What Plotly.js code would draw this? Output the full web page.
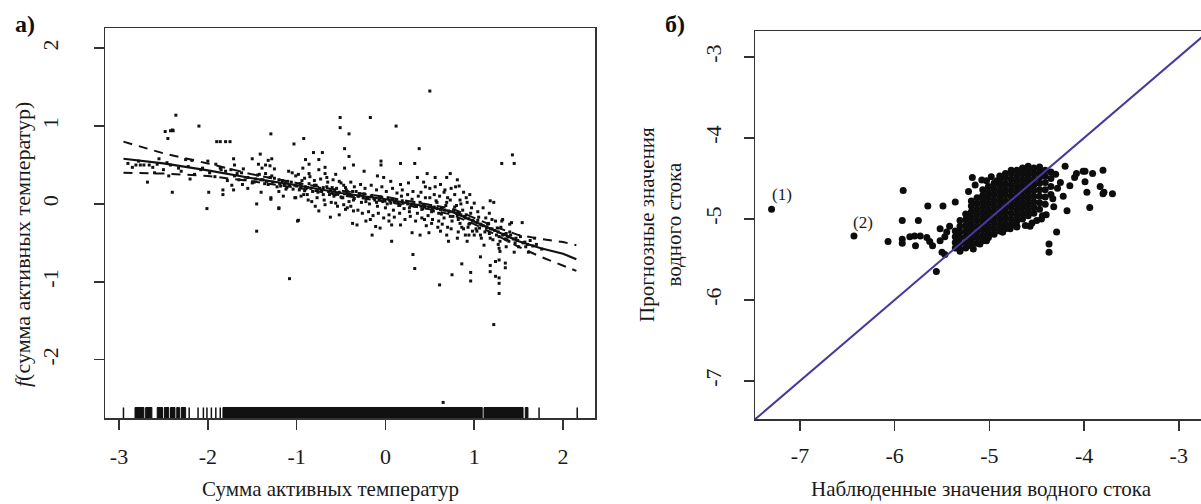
<!DOCTYPE html>
<html><head><meta charset="utf-8">
<script src="https://cdn.plot.ly/plotly-3.0.1.min.js"></script>
<style>html,body{margin:0;padding:0;overflow:hidden;background:#fff}#chart{width:1220px;height:504px}</style>
</head><body><div id="chart"></div>
<script>
// ---------- Panel а): partial effect of sum of active temperatures ----------
const residX = [-2.36,-2.10,-2.48,-2.40,-2.45,-1.90,-1.80,-1.29,-0.92,-1.03,-0.81,-0.51,-0.51,-0.41,-0.46,-0.41,-0.46,-0.17,0.12,0.50,0.38,1.43,1.45,1.31,-0.05,-0.05,0.17,0.33,-0.24,-0.36,-2.40,-2.68,-2.01,-1.99,-1.45,-1.45,-1.08,-0.98,-1.20,-1.29,
-2.90,-2.85,-2.78,-2.72,-2.62,-2.55,-2.50,-2.42,-2.30,-2.22,-2.15,-2.08,-1.98,-1.92,-1.85,-1.78,-1.70,-1.62,-1.55,-1.48,-1.42,-1.38,-1.32,-1.25,-1.22,-1.16,-1.12,-1.06,-1.02,-0.97,-0.94,-0.90,-0.86,-0.82,-0.78,-0.74,-0.70,-0.66,-0.62,-0.58,-0.55,-0.52,-0.48,-0.44,-0.40,-0.36,-0.33,-0.30,-0.27,-0.24,-0.21,-0.18,-0.15,-0.12,-0.09,-0.06,-0.03,0.00,0.03,0.06,0.09,0.12,0.15,0.18,0.21,0.24,0.27,0.30,0.33,0.36,0.39,0.42,0.45,0.48,0.51,0.54,0.57,0.60,0.63,0.66,0.69,0.72,0.75,0.78,0.81,0.84,0.87,0.90,0.93,0.96,0.99,1.02,1.05,1.08,1.12,1.16,1.20,1.25,1.30,1.35,1.40,1.46,1.52,1.58,1.63,
-0.09,-0.02,0.06,0.17,0.26,0.36,0.47,0.73,0.56,0.69,0.81,0.83,0.95,1.00,1.18,1.22,1.13,1.20,1.31,1.42,1.54,-0.15,0.07,0.31,0.33,0.61,0.75,0.86,0.96,0.96,1.07,1.18,1.24,1.28,1.35,1.35,1.18,1.24,1.28,1.28,1.28,1.22,1.18,1.29,1.37,1.28,1.29,1.03,1.07,1.11,0.71,0.81,0.92,0.94,0.30,0.39,0.49,0.62,0.69,-0.32,-0.22,-0.17,-0.11,-0.06,0.04,0.07,0.17,1.32,1.41,-0.62,-0.99,0.65,
0.50,0.55,0.62,0.66,0.70,0.74,0.78,0.84,0.88,0.58,0.45,0.40,0.68,0.80,0.92,0.86,0.74,0.60,0.52,0.44,0.98,0.90,
-1.09,-1.01,-0.93,-0.86,-0.75,-0.68,-0.56,-0.52,-0.45,-0.37,-0.83,-0.79,-0.75,-0.68,-0.56,-0.52,-0.45,-0.37,-0.36,-0.92,-0.88,-1.01,-1.11,-1.20,-1.43,-1.39,-1.35,-1.28,-1.20,-1.13,-1.61,-1.58,-1.50,-1.65,-1.91,-1.86,-1.74,-1.67,-1.80,-2.81,-2.76,-2.66,-2.57,-2.46,-2.44,-2.33,-2.25,-2.18,-2.06,-0.68,-0.66,-0.60,-0.56,-0.49,-0.41,-0.47,-0.39,-0.86,-0.75,-0.90,-0.71,-1.50,-1.41,-1.32,-1.28,-1.35,-1.30,-1.71,-1.73,-1.71,-1.83,-1.83,-1.29,-1.20,-1.02,-1.86,-1.75,-2.42,-2.39,
-1.46,-1.40,-1.34,-1.27,-1.19,-1.14,-1.08,-1.00,-0.95,-0.88,-0.84,-0.77,-0.72,-0.64,-0.60,-0.53,-0.46,-0.42,-0.38,-0.31,-0.25,-0.20,-0.13,-0.07,-0.01,0.05,0.10,0.14,0.20,0.25,0.29,0.35,0.40,0.44,0.49,0.53,0.58,0.62,0.67,0.71,0.76,0.80,0.85,0.89,0.94,0.98,1.03,1.07,1.10,1.14,1.18,1.23,1.27,1.33,1.38,1.44,1.49,1.55,1.60,1.66,
-1.44,-1.30,-1.10,-0.96,-0.80,-0.70,-0.57,-0.43,-0.29,-0.16,-0.04,0.08,0.19,0.32,0.43,0.55,0.64,0.77,0.83,0.91,1.04,1.15,1.26,1.36,1.47,1.57,
-1.36,-1.18,-1.04,-0.91,-0.76,-0.63,-0.50,-0.35,-0.22,-0.10,0.02,0.16,0.27,0.41,0.52,0.63,0.73,0.82,0.95,1.06,1.17,1.28,1.39,1.50,1.70,1.76,1.61,1.68,
-0.98,-0.95,-0.91,-0.87,-0.85,-0.80,-0.77,-0.73,-0.69,-0.65,-0.61,-0.59,-0.54,-0.50,-0.47,-0.43,-0.39,-0.35,-0.31,-0.28,-0.26,-0.23,-0.19,-0.16,-0.14,-0.10,-0.08,-0.04,-0.02,0.01,0.04,0.08,0.10,0.13,0.16,0.19,0.22,0.25,0.28,0.31,0.34,0.37,0.41,0.43,0.46,0.50,0.53,0.56,0.59,0.61,0.64,0.67,0.70,0.73,0.76,0.79,0.82,0.85,0.88,0.91,0.94,0.97,1.00,1.04,1.08,1.10,1.14,1.17,1.21,1.24,1.27,1.32,1.36,1.40,1.45,-1.40,-1.25,-1.15,-1.05,-1.60,-1.55,-2.20,-2.60,-2.00,-1.70];
const residY = [1.14,1.00,0.93,0.95,0.84,0.80,0.80,0.90,0.84,0.77,0.66,1.11,0.98,0.90,0.71,0.61,0.46,1.11,1.00,1.45,0.71,0.63,0.52,0.52,0.55,0.50,0.52,0.52,0.42,0.50,0.15,0.28,-0.06,0.15,0.00,-0.35,-0.96,-0.21,-0.06,0.08,
0.52,0.47,0.55,0.50,0.47,0.58,0.44,0.50,0.42,0.48,0.38,0.44,0.40,0.35,0.44,0.30,0.36,0.40,0.34,0.28,0.38,0.31,0.25,0.33,0.22,0.30,0.19,0.28,0.24,0.18,0.30,0.22,0.26,0.16,0.24,0.20,0.12,0.22,0.17,0.10,0.20,0.15,0.08,0.18,0.12,0.05,0.16,0.10,0.02,0.13,0.07,0.00,0.11,0.05,-0.03,0.09,0.03,-0.05,0.08,0.01,-0.08,0.05,-0.02,0.10,-0.06,0.03,-0.10,0.06,-0.03,-0.12,0.02,-0.06,0.08,-0.15,-0.02,-0.09,0.04,-0.12,-0.05,-0.18,0.02,-0.10,-0.22,-0.04,-0.14,-0.25,-0.08,-0.18,-0.30,-0.12,-0.22,-0.32,-0.17,-0.27,-0.36,-0.25,-0.32,-0.40,-0.30,-0.45,-0.36,-0.50,-0.42,-0.55,-0.47,
0.36,0.34,0.29,0.25,0.27,0.34,0.39,0.39,0.34,0.34,0.31,0.23,0.12,0.01,0.04,0.02,-0.18,-0.20,-0.22,-0.24,-0.24,-0.40,-0.48,-0.65,-0.83,-1.04,-0.91,-0.77,-0.88,-0.99,-0.68,-0.79,-0.74,-0.72,-0.76,-0.82,-0.87,-0.93,-0.95,-1.02,-1.15,-1.55,-0.44,-0.48,-0.46,-0.57,-0.61,-0.35,-0.40,-0.53,-0.48,-0.44,-0.48,-0.40,-0.37,-0.40,-0.37,-0.35,-0.40,-0.27,-0.22,-0.20,-0.29,-0.31,-0.22,-0.27,-0.27,-0.40,-0.40,-0.17,-0.22,-2.55,
0.20,0.12,0.25,0.15,0.08,0.20,0.12,0.05,0.15,0.02,0.22,0.15,-0.02,-0.02,0.02,-0.30,-0.32,-0.22,-0.25,-0.20,-0.35,-0.40,
0.42,0.36,0.46,0.39,0.44,0.39,0.38,0.29,0.21,0.16,0.03,-0.03,-0.09,-0.01,0.01,-0.14,-0.07,-0.25,-0.09,0.12,0.12,0.08,0.21,0.16,0.51,0.46,0.39,0.36,0.31,0.27,0.25,0.31,0.27,0.31,0.51,0.46,0.44,0.39,0.42,0.50,0.50,0.50,0.51,0.53,0.36,0.46,0.57,0.56,0.46,0.47,0.34,0.21,0.12,0.08,0.03,-0.01,-0.03,0.51,0.57,0.57,0.66,0.58,0.64,0.56,0.58,0.50,0.49,0.58,0.24,0.18,0.18,0.12,0.06,-0.05,0.08,0.80,0.80,0.94,0.94,
0.32,0.31,0.29,0.28,0.26,0.25,0.24,0.23,0.22,0.21,0.20,0.18,0.17,0.16,0.15,0.14,0.13,0.12,0.11,0.10,0.09,0.08,0.07,0.06,0.05,0.04,0.03,0.02,0.01,0.00,-0.01,-0.02,-0.03,-0.04,-0.04,-0.05,-0.06,-0.07,-0.08,-0.09,-0.10,-0.12,-0.14,-0.16,-0.19,-0.21,-0.24,-0.26,-0.28,-0.30,-0.32,-0.34,-0.36,-0.39,-0.42,-0.45,-0.47,-0.50,-0.52,-0.54,
0.37,0.34,0.29,0.26,0.24,0.21,0.18,0.16,0.13,0.10,0.08,0.06,0.04,0.02,-0.01,-0.04,-0.06,-0.09,-0.12,-0.14,-0.21,-0.26,-0.31,-0.38,-0.44,-0.49,
0.26,0.23,0.19,0.17,0.15,0.12,0.09,0.07,0.03,0.02,0.00,-0.02,-0.05,-0.07,-0.10,-0.13,-0.16,-0.20,-0.25,-0.31,-0.38,-0.42,-0.48,-0.55,-0.52,-0.58,-0.62,-0.44,
0.38,0.10,0.33,0.05,0.35,0.30,0.08,0.32,0.05,0.28,0.02,0.31,-0.03,0.27,0.24,-0.05,0.28,0.22,-0.08,0.25,-0.12,0.20,-0.10,0.24,-0.15,0.18,-0.12,0.22,-0.18,0.16,-0.14,0.20,-0.17,0.14,-0.12,0.18,-0.20,0.12,-0.16,0.16,-0.22,0.10,-0.18,0.28,-0.28,0.08,-0.20,0.22,-0.30,0.10,-0.26,0.18,-0.30,0.05,-0.16,0.22,-0.36,0.00,-0.32,0.08,-0.26,-0.05,-0.40,-0.10,-0.44,-0.05,-0.30,-0.12,-0.46,-0.22,-0.52,-0.20,-0.55,-0.26,-0.62,0.15,0.45,0.10,0.40,0.45,0.20,0.32,0.40,0.55,0.50];

// smooth fit and ±2SE bands
const fitX   = [-2.95,-2.5,-2.0,-1.5,-1.0,-0.5,0.0,0.5,0.75,1.0,1.25,1.5,1.75,2.0,2.15];
const fitY   = [0.58,0.52,0.43,0.33,0.24,0.14,0.06,-0.04,-0.10,-0.22,-0.35,-0.48,-0.57,-0.64,-0.71];
const upperY = [0.80,0.65,0.52,0.38,0.27,0.17,0.09,-0.01,-0.06,-0.18,-0.30,-0.40,-0.45,-0.49,-0.53];
const lowerY = [0.40,0.39,0.36,0.29,0.21,0.11,0.03,-0.07,-0.14,-0.26,-0.40,-0.55,-0.68,-0.79,-0.86];

// rug: solid blocks of observations and isolated observations
const rugBlocks = [[-2.82,-2.72],[-2.70,-2.63],[-2.57,-2.51],[-2.49,-2.44],[-2.42,-2.37],[-2.35,-2.32],[-2.30,-2.25],[-1.83,1.09],[1.11,1.55],[1.575,1.605]];
const rugTicks  = [-2.95,-2.21,-2.11,-2.05,-2.01,-1.96,-1.91,-1.86,1.73,2.16];

// ---------- Panel б): observed vs predicted runoff ----------
const obsX = [-7.30,-6.43,
-5.91,-5.65,-5.49,-5.36,-5.92,-5.75,-6.07,-5.92,-5.92,-5.84,-5.79,-5.73,-5.66,-5.63,-5.78,-5.60,-5.52,-5.47,-5.45,-5.52,-5.42,-5.50,-5.47,-5.56,-5.18,-5.03,-4.92,-5.10,-4.86,-4.78,-4.71,
-4.20,-4.08,-3.99,-3.91,-3.80,-3.83,-3.80,-3.70,-3.97,-3.99,-3.94,-4.18,-4.15,-4.10,-4.22,-4.29,-4.37,-4.37,-4.01,-3.79,
-4.30,-4.28,-4.33,-4.25,-4.32,-4.40,-4.45,-4.55,-4.62,-4.50,-4.44,-4.57,-4.71,-4.86,-5.03,-5.17,-5.31,
-5.36,-5.36,-5.36,-5.36,
-5.31,-5.31,-5.31,-5.31,-5.31,-5.31,
-5.25,-5.25,-5.25,-5.25,-5.25,-5.25,-5.25,
-5.19,-5.19,-5.19,-5.19,-5.19,-5.19,-5.19,-5.19,-5.19,
-5.13,-5.13,-5.13,-5.13,-5.13,-5.13,-5.13,-5.13,-5.13,
-5.07,-5.07,-5.07,-5.07,-5.07,-5.07,-5.07,-5.07,-5.07,-5.07,
-5.01,-5.01,-5.01,-5.01,-5.01,-5.01,-5.01,-5.01,-5.01,-5.01,
-4.95,-4.95,-4.95,-4.95,-4.95,-4.95,-4.95,-4.95,-4.95,-4.95,
-4.89,-4.89,-4.89,-4.89,-4.89,-4.89,-4.89,-4.89,-4.89,-4.89,-4.89,
-4.83,-4.83,-4.83,-4.83,-4.83,-4.83,-4.83,-4.83,-4.83,-4.83,-4.83,
-4.77,-4.77,-4.77,-4.77,-4.77,-4.77,-4.77,-4.77,-4.77,-4.77,-4.77,
-4.71,-4.71,-4.71,-4.71,-4.71,-4.71,-4.71,-4.71,-4.71,-4.71,
-4.65,-4.65,-4.65,-4.65,-4.65,-4.65,-4.65,-4.65,-4.65,-4.65,
-4.59,-4.59,-4.59,-4.59,-4.59,-4.59,-4.59,-4.59,-4.59,-4.59,
-4.53,-4.53,-4.53,-4.53,-4.53,-4.53,-4.53,-4.53,-4.53,
-4.47,-4.47,-4.47,-4.47,-4.47,-4.47,-4.47,-4.47,
-4.41,-4.41,-4.41,-4.41,-4.41,-4.41,
-4.35,-4.35,-4.35,-4.35,
-5.22,-5.15,-5.08,-4.98];
const predY = [-4.88,-5.21,
-4.65,-4.84,-4.84,-4.79,-5.02,-5.02,-5.28,-5.25,-5.30,-5.22,-5.21,-5.21,-5.23,-5.28,-5.33,-5.33,-5.27,-5.22,-5.16,-5.12,-5.09,-5.41,-5.44,-5.65,-4.49,-4.53,-4.53,-5.31,-5.16,-5.12,-5.09,
-4.35,-4.44,-4.41,-4.44,-4.40,-4.60,-4.69,-4.69,-4.67,-4.54,-4.86,-4.90,-4.59,-4.49,-4.72,-5.16,-5.31,-5.41,-4.41,-4.67,
-4.45,-4.62,-4.75,-4.55,-4.85,-4.95,-5.00,-5.05,-5.08,-5.02,-4.96,-5.09,-5.10,-5.16,-5.27,-5.37,-5.40,
-5.36,-5.29,-5.22,-5.15,
-5.37,-5.30,-5.23,-5.16,-5.09,-5.02,
-5.36,-5.29,-5.22,-5.15,-5.08,-5.01,-4.94,
-5.33,-5.26,-5.19,-5.12,-5.05,-4.98,-4.91,-4.84,-4.78,
-5.30,-5.23,-5.16,-5.09,-5.02,-4.95,-4.88,-4.81,-4.74,
-5.27,-5.20,-5.13,-5.06,-4.99,-4.92,-4.85,-4.78,-4.71,-4.64,
-5.23,-5.16,-5.09,-5.02,-4.95,-4.88,-4.81,-4.74,-4.67,-4.60,
-5.19,-5.12,-5.05,-4.98,-4.91,-4.84,-4.77,-4.70,-4.63,-4.56,
-5.15,-5.08,-5.01,-4.94,-4.87,-4.80,-4.73,-4.66,-4.59,-4.52,-4.47,
-5.12,-5.05,-4.98,-4.91,-4.84,-4.77,-4.70,-4.63,-4.56,-4.49,-4.44,
-5.07,-5.00,-4.93,-4.86,-4.79,-4.72,-4.65,-4.58,-4.51,-4.44,-4.40,
-5.03,-4.96,-4.89,-4.82,-4.75,-4.68,-4.61,-4.54,-4.47,-4.40,
-5.00,-4.93,-4.86,-4.79,-4.72,-4.65,-4.58,-4.51,-4.44,-4.37,
-4.96,-4.89,-4.82,-4.75,-4.68,-4.61,-4.54,-4.47,-4.40,-4.35,
-4.93,-4.86,-4.79,-4.72,-4.65,-4.58,-4.51,-4.44,-4.37,
-4.88,-4.80,-4.72,-4.64,-4.56,-4.49,-4.42,-4.36,
-4.82,-4.73,-4.64,-4.55,-4.47,-4.40,
-4.70,-4.60,-4.50,-4.42,
-4.66,-4.58,-4.52,-4.48];
const pointLabels = ['(1)','(2)'];
const labelAt = [[-7.19,-4.70],[-6.33,-5.04]];

const xTicks1 = [-3,-2,-1,0,1,2];
const yTicks1 = [-2,-1,0,1,2];
const xTicks2 = [-7,-6,-5,-4,-3];
const yTicks2 = [-7,-6,-5,-4,-3];

const xRange1 = [-3.158, 2.36], yRange1 = [-2.75, 2.26];
const xRange2 = [-7.475, -2.67], yRange2 = [-7.47, -2.68];

// build rug geometry from data
const rugLo = yRange1[0], rugHi = yRange1[0] + 0.135;
const blkX = [], blkY = [];
rugBlocks.forEach(b => { blkX.push(b[0], b[1], b[1], b[0], b[0], null); blkY.push(rugLo, rugLo, rugHi, rugHi, rugLo, null); });
const tkX = [], tkY = [];
rugTicks.forEach(t => { tkX.push(t, t, null); tkY.push(rugLo, rugHi, null); });

const serif = 'Liberation Serif';
const txt = '#1a1a1a';

const traces = [
  {x: residX, y: residY, type: 'scatter', mode: 'markers', marker: {size: 3, color: '#111', symbol: 'square'}, xaxis: 'x', yaxis: 'y', hoverinfo: 'skip'},
  {x: fitX, y: upperY, type: 'scatter', mode: 'lines', line: {color: '#111', width: 2, dash: '9px,7px'}, xaxis: 'x', yaxis: 'y'},
  {x: fitX, y: lowerY, type: 'scatter', mode: 'lines', line: {color: '#111', width: 2, dash: '9px,7px'}, xaxis: 'x', yaxis: 'y'},
  {x: fitX, y: fitY, type: 'scatter', mode: 'lines', line: {color: '#111', width: 2.2}, xaxis: 'x', yaxis: 'y'},
  {x: blkX, y: blkY, type: 'scatter', mode: 'lines', fill: 'toself', fillcolor: '#111', line: {color: '#111', width: 1}, xaxis: 'x', yaxis: 'y'},
  {x: tkX, y: tkY, type: 'scatter', mode: 'lines', line: {color: '#111', width: 1.5}, xaxis: 'x', yaxis: 'y'},
  {x: obsX, y: predY, type: 'scatter', mode: 'markers', marker: {size: 7, color: '#0d0d0d'}, xaxis: 'x2', yaxis: 'y2'},
  {x: [xRange2[0], xRange2[1] + 0.5], y: [xRange2[0], xRange2[1] + 0.5], type: 'scatter', mode: 'lines', line: {color: '#46399c', width: 2}, xaxis: 'x2', yaxis: 'y2'}
];

const W = 1220, H = 504;
const axBase = {showgrid: false, zeroline: false, showline: true, linecolor: '#333', linewidth: 1.5, mirror: true,
  ticks: 'outside', ticklen: 10, tickwidth: 1.5, tickcolor: '#333', tickfont: {family: serif, size: 22, color: txt}, fixedrange: true};

const annotations = [
  {text: '<b>а)</b>', x: 25/W, y: 1 - 24/H},
  {text: '<b>б)</b>', x: 675/W, y: 1 - 24/H},
  {text: 'Сумма активных температур', x: 330/W, y: 1 - 489/H, font: {family: serif, size: 21, color: txt}},
  {text: 'Наблюденные значения водного стока', x: 981/W, y: 1 - 489/H, font: {family: serif, size: 21, color: txt}},
  {text: '<i>f</i>(сумма активных температур)', x: 22/W, y: 1 - 245/H, textangle: -90, font: {family: serif, size: 22, color: txt}},
  {text: 'Прогнозные значения<br>водного стока', x: 661/W, y: 1 - 225/H, textangle: -90, font: {family: serif, size: 21, color: txt}}
].map(a => Object.assign({xref: 'paper', yref: 'paper', showarrow: false, xanchor: 'center', yanchor: 'middle', font: {family: serif, size: 24, color: '#111'}}, a));
pointLabels.forEach((t, i) => annotations.push({text: t, x: labelAt[i][0], y: labelAt[i][1], xref: 'x2', yref: 'y2', showarrow: false, xanchor: 'center', yanchor: 'middle', font: {family: serif, size: 17, color: txt}}));

const layout = {
  width: W, height: H, margin: {l: 0, r: 0, t: 0, b: 0}, showlegend: false,
  paper_bgcolor: '#fff', plot_bgcolor: '#fff',
  font: {family: serif},
  xaxis: Object.assign({}, axBase, {domain: [105/W, 595/W], range: xRange1, tickmode: 'array', tickvals: xTicks1, ticktext: xTicks1.map(String), anchor: 'y', ticklabelstandoff: 8}),
  yaxis: Object.assign({}, axBase, {domain: [1 - 418/H, 1 - 28/H], range: yRange1, tickmode: 'array', tickvals: yTicks1, ticktext: yTicks1.map(String), tickangle: -90, anchor: 'x', ticklabelstandoff: 27}),
  xaxis2: Object.assign({}, axBase, {domain: [755/W, 1210/W], range: xRange2, tickmode: 'array', tickvals: xTicks2, ticktext: xTicks2.map(String), anchor: 'y2', ticklabelstandoff: 6}),
  yaxis2: Object.assign({}, axBase, {domain: [1 - 419/H, 1 - 31/H], range: yRange2, tickmode: 'array', tickvals: yTicks2, ticktext: yTicks2.map(String), tickangle: -90, anchor: 'x2', ticklabelstandoff: 14}),
  annotations: annotations
};
Plotly.newPlot('chart', traces, layout, {displayModeBar: false, staticPlot: true});
</script></body></html>
